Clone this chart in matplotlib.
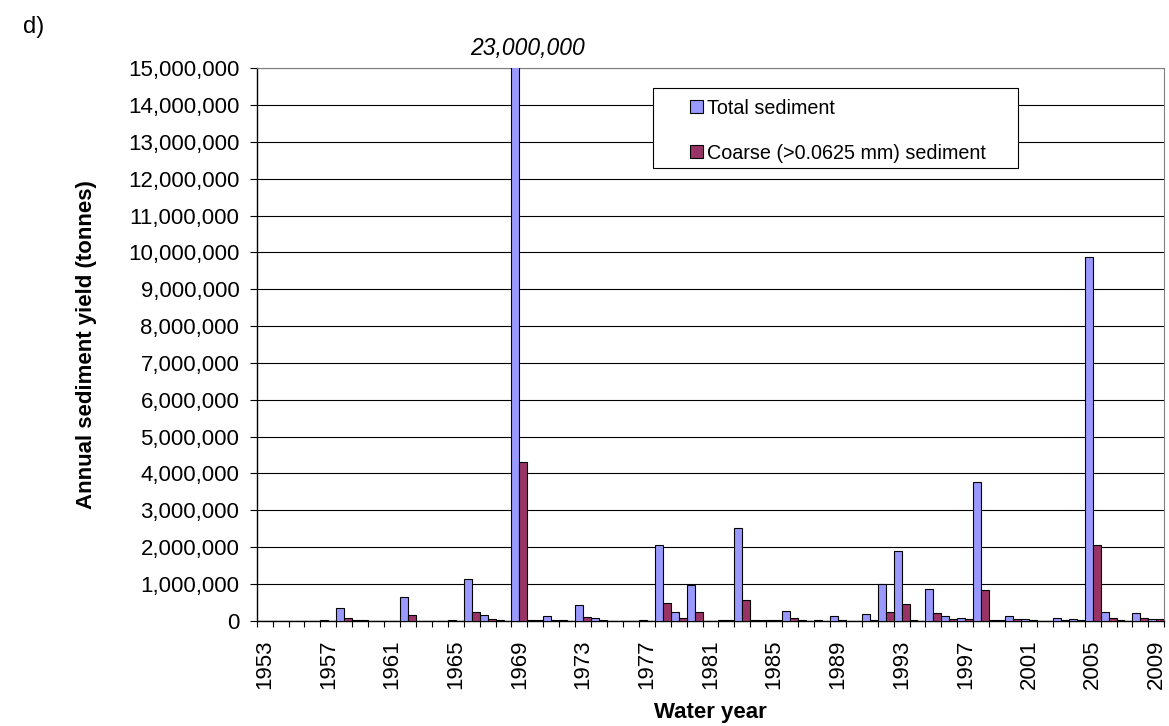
import matplotlib
matplotlib.use('Agg')
import matplotlib.pyplot as plt
import numpy as np
from matplotlib.ticker import FuncFormatter
from matplotlib.patches import Rectangle

plt.rcParams['font.family'] = ['Liberation Sans', 'DejaVu Sans']

years = list(range(1953, 2010))
total = [5000, 5000, 3000, 5000, 8000, 335000, 10000, 0, 0, 640000,
         0, 0, 10000, 1130000, 155000, 12000, 23000000, 20000, 120000, 15000,
         425000, 80000, 5000, 5000, 12000, 2060000, 235000, 960000, 5000, 30000,
         2520000, 20000, 25000, 260000, 10000, 15000, 135000, 5000, 170000, 1000000,
         1900000, 10000, 850000, 135000, 65000, 3770000, 20000, 120000, 40000, 5000,
         60000, 50000, 9880000, 245000, 10000, 220000, 55000]
coarse = [2000, 2000, 2000, 2000, 2000, 80000, 15000, 0, 0, 145000,
          0, 0, 3000, 245000, 55000, 5000, 4300000, 10000, 30000, 5000,
          100000, 30000, 2000, 2000, 5000, 470000, 70000, 235000, 2000, 10000,
          560000, 8000, 8000, 70000, 3000, 5000, 30000, 2000, 30000, 235000,
          450000, 5000, 210000, 55000, 55000, 830000, 10000, 40000, 30000, 2000,
          30000, 20000, 2050000, 80000, 5000, 70000, 45000]
series_names = ['Total sediment', 'Coarse (>0.0625 mm) sediment']
peak_label = '23,000,000'

W, H = 1169, 726
fig = plt.figure(figsize=(W / 100, H / 100), dpi=100)
L, R, T, B = 256.7, 1164.3, 68.3, 620.7
ax = fig.add_axes([L / W, 1 - B / H, (R - L) / W, (B - T) / H])

x = np.arange(len(years))
b1 = ax.bar(x - 0.25, total, width=0.5, color='#9999FF', edgecolor='black',
            linewidth=0.8, label=series_names[0], zorder=3)
b2 = ax.bar(x + 0.25, coarse, width=0.5, color='#993366', edgecolor='black',
            linewidth=0.8, label=series_names[1], zorder=3)

ax.set_xlim(-0.5, len(years) - 0.5)
ax.set_ylim(0, 15e6)
ax.set_yticks(np.arange(0, 15e6 + 1, 1e6))
ax.yaxis.set_major_formatter(FuncFormatter(lambda v, p: f'{v:,.0f}'))
ax.grid(axis='y', color='black', lw=0.8, zorder=0)
ax.set_axisbelow(True)

label_idx = [i for i, y in enumerate(years) if (y - 1953) % 4 == 0]
ax.set_xticks(label_idx)
ax.set_xticklabels([str(years[i]) for i in label_idx], rotation=90)
ax.set_xticks(np.arange(-0.5, len(years)), minor=True)
ax.tick_params(axis='x', which='major', length=0, pad=13.5, labelsize=16)
ax.tick_params(axis='x', which='minor', length=4.5, width=0.8, direction='out')
ax.tick_params(axis='y', length=5, width=0.8, pad=7.5, labelsize=16)

for s in ['left', 'bottom']:
    ax.spines[s].set_color('black')
    ax.spines[s].set_linewidth(1.0)
for s in ['top', 'right']:
    ax.spines[s].set_color('#808080')
    ax.spines[s].set_linewidth(0.8)

ax.set_ylabel('Annual sediment yield (tonnes)', fontsize=16, fontweight='bold')
ax.yaxis.set_label_coords((97 - L) / (R - L), 0.5)
ax.set_xlabel('Water year', fontsize=16, fontweight='bold')
ax.xaxis.set_label_coords(0.5, (B - 702) / (B - T))

ax.annotate(peak_label, xy=(16, 15e6), xytext=(5.5, 13.3 * 0.72),
            textcoords='offset points', ha='center', va='baseline',
            style='italic', fontsize=16.5, annotation_clip=False)

fig.text(23 / W, 1 - 33 / H, 'd)', fontsize=17, va='baseline')

frame = Rectangle((653.3 / W, 1 - 168.3 / H), (1018 - 653.3) / W, 80 / H,
                  transform=fig.transFigure, facecolor='white', edgecolor='black',
                  linewidth=0.8, zorder=4, clip_on=False)
ax.add_patch(frame)
leg = ax.legend(handles=[b1, b2], loc='upper left',
                bbox_to_anchor=(690 / W, 1 - 98.7 / H), bbox_transform=fig.transFigure,
                frameon=False, borderpad=0, borderaxespad=0, fontsize=14.2,
                handlelength=0.67, handleheight=0.67, handletextpad=0.19,
                labelspacing=1.31)
leg.set_zorder(5)

fig.savefig('out.png', dpi=100)
